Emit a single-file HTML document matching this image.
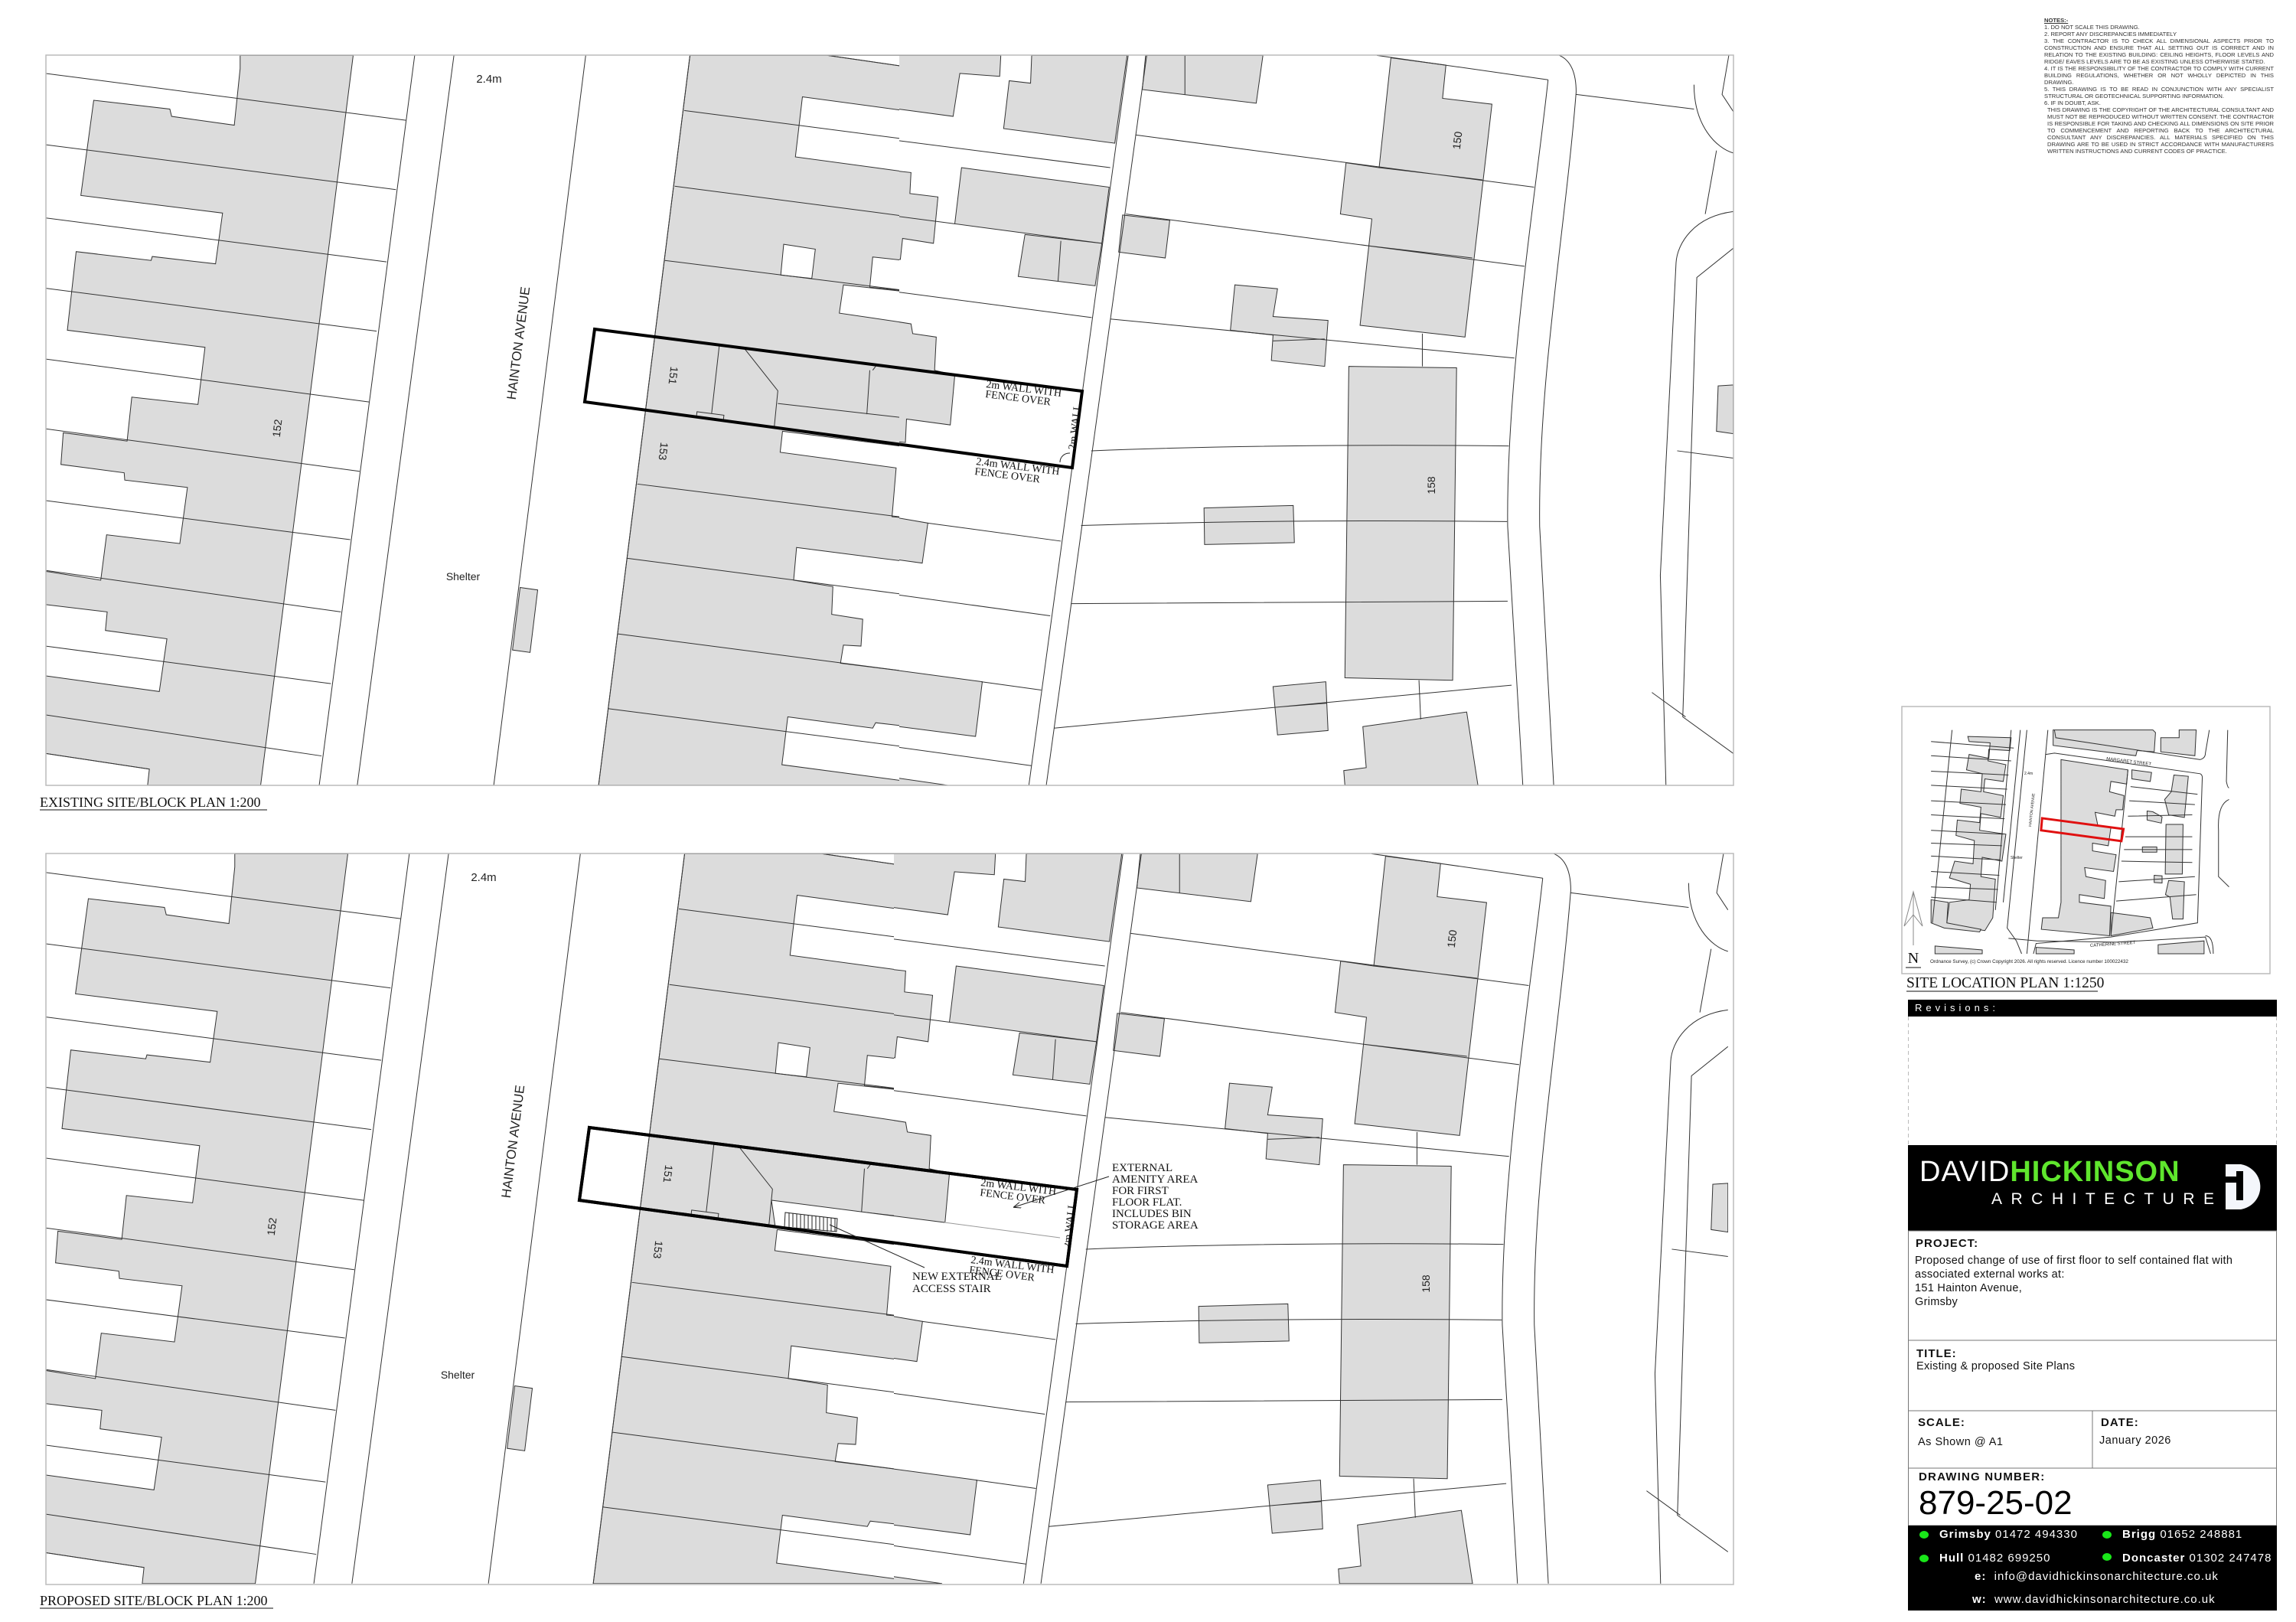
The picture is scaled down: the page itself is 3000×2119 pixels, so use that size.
<!DOCTYPE html>
<html><head><meta charset="utf-8"><style>
*{margin:0;padding:0;box-sizing:border-box}
body{width:3000px;height:2119px;background:#fff;position:relative;overflow:hidden;font-family:"Liberation Sans",sans-serif}
.a{position:absolute;white-space:nowrap}
.tb{font-family:"Liberation Sans",sans-serif;color:#111}
.b{font-weight:bold}
.dot{position:absolute;width:12px;height:10px;border-radius:50%;background:#19e619}
</style></head><body>
<svg width="3000" height="2119" viewBox="0 0 3000 2119" style="position:absolute;left:0;top:0">
<defs>
<clipPath id="cL" clipPathUnits="userSpaceOnUse"><rect x="60" y="72" width="1115" height="954"/></clipPath>
<clipPath id="cR" clipPathUnits="userSpaceOnUse"><rect x="1175" y="72" width="1090" height="954"/></clipPath>
<clipPath id="cT" clipPathUnits="userSpaceOnUse"><rect x="60" y="72" width="2205" height="954"/></clipPath>
<clipPath id="cB" clipPathUnits="userSpaceOnUse"><rect x="60" y="1115" width="2205" height="955"/></clipPath>
<marker id="ar" markerWidth="10" markerHeight="8" refX="9" refY="4" orient="auto" markerUnits="userSpaceOnUse"><path d="M0,0 L10,4 L0,8" fill="none" stroke="#222" stroke-width="1"/></marker>
<g id="plan">
 <g clip-path="url(#cL)">
  <g transform="translate(0,50) scale(0.7653,0.6378)" fill="#dcdcdc" stroke="#333" stroke-width="1" vector-effect="non-scaling-stroke">
   <polygon vector-effect="non-scaling-stroke" points="603,35 410,35 410,62 400,178 293,160 290,145 160,127 138,322 380,358 368,462 260,447 258,455 130,437 115,598 350,633 338,750 225,735 217,825 108,808 104,873 212,890 213,905 320,920 307,1035 182,1017 172,1110 85,1093 78,1092 78,1160 183,1175 180,1213 285,1230 272,1338 78,1306 78,1465 255,1497 252,1530 445,1530"/>
   <polygon vector-effect="non-scaling-stroke" points="1178,35 1568,35 1568,1530 1022,1530"/>
   <g fill="#fff">
    <polygon vector-effect="non-scaling-stroke" points="1370,120 1568,152 1568,318 1553,315 1555,275 1358,243"/>
    <polygon vector-effect="non-scaling-stroke" points="1338,422 1392,432 1386,492 1333,485"/>
    <polygon vector-effect="non-scaling-stroke" points="1490,448 1568,458 1568,520 1485,510"/>
    <polygon vector-effect="non-scaling-stroke" points="1440,505 1568,522 1568,606 1557,605 1558,585 1433,563"/>
    <polygon vector-effect="non-scaling-stroke" points="1336,805 1568,840 1568,985 1523,980 1530,880 1332,848"/>
    <polygon vector-effect="non-scaling-stroke" points="1360,1043 1568,1075 1568,1300 1435,1280 1440,1243 1470,1245 1473,1190 1420,1180 1422,1123 1355,1110"/>
    <polygon vector-effect="non-scaling-stroke" points="1345,1390 1490,1413 1495,1402 1568,1412 1568,1525 1335,1488"/>
    <polygon vector-effect="non-scaling-stroke" points="1413,35 1568,35 1568,62"/>
   </g>
   <g fill="none">
    <path vector-effect="non-scaling-stroke" d="M78,72L693,168M78,218L676,310M78,368L660,458M78,512L643,600M78,657L630,745M78,800L614,887M78,947L598,1027M78,1090L582,1175M78,1245L565,1322M78,1386L549,1470M78,1465L255,1497"/>
    <path vector-effect="non-scaling-stroke" d="M708,35L545,1530M775,35L610,1530M1000,35L843,1530M1178,35L1022,1530"/>
    <path vector-effect="non-scaling-stroke" d="M1168,148L1568,210M1152,303L1568,368M1135,455L1568,520M1088,913L1568,985M1070,1065L1568,1143M1055,1220L1568,1300M1038,1373L1568,1455M1413,35L1568,62"/>
    <path vector-effect="non-scaling-stroke" d="M1228,630L1215,768M1272,637L1328,722L1322,795M1328,748L1548,778M1485,680L1480,770M1495,672L1490,680"/>
   </g>
   <polygon vector-effect="non-scaling-stroke" points="888,1125 918,1130 905,1258 875,1253"/>
   <polygon vector-effect="non-scaling-stroke" points="1190,765 1236,772 1235,782 1189,776"/>
  </g>
 </g>
 <g clip-path="url(#cR)">
  <g transform="translate(1150,50) scale(0.7334,0.6378)" fill="#dcdcdc" stroke="#333" stroke-width="1">
   <rect x="0" y="35" width="460" height="1500" fill="#fff" stroke="none"/>
   <polygon vector-effect="non-scaling-stroke" points="0,35 215,35 213,78 142,72 130,160 0,140"/>
   <polygon vector-effect="non-scaling-stroke" points="270,35 440,35 418,215 220,185 230,87 268,92"/>
   <polygon vector-effect="non-scaling-stroke" points="0,268 55,275 53,318 103,325 95,420 40,410 36,453 0,447"/>
   <polygon vector-effect="non-scaling-stroke" points="145,265 408,305 395,420 133,380"/>
   <polygon vector-effect="non-scaling-stroke" points="258,402 395,420 383,507 246,488"/>
   <polygon vector-effect="non-scaling-stroke" points="0,575 55,585 58,605 100,612 97,680 133,690 125,792 47,780 45,828 0,823"/>
   <polygon vector-effect="non-scaling-stroke" points="0,880 30,880 20,980 85,993 75,1075 0,1063"/>
   <polygon vector-effect="non-scaling-stroke" points="0,1290 182,1318 170,1430 0,1405"/>
   <polygon vector-effect="non-scaling-stroke" points="0,1510 120,1530 0,1530"/>
   <polygon vector-effect="non-scaling-stroke" points="473,35 682,35 670,133 467,105"/>
   <polygon vector-effect="non-scaling-stroke" points="432,362 516,373 508,450 425,438"/>
   <polygon vector-effect="non-scaling-stroke" points="632,505 708,513 700,570 798,578 792,672 697,660 700,608 624,598"/>
   <polygon vector-effect="non-scaling-stroke" points="910,40 1008,55 1002,123 1090,135 1042,612 855,588 876,370 820,360 830,255 889,265"/>
   <polygon vector-effect="non-scaling-stroke" points="835,672 1027,675 1020,1315 828,1310"/>
   <polygon vector-effect="non-scaling-stroke" points="577,962 736,957 738,1033 578,1037"/>
   <polygon vector-effect="non-scaling-stroke" points="700,1328 794,1318 798,1418 708,1427"/>
   <polygon vector-effect="non-scaling-stroke" points="860,1410 1045,1380 1065,1530 828,1530 826,1500 866,1494"/>
   <polygon vector-effect="non-scaling-stroke" points="1493,712 1520,710 1520,810 1490,805"/>
   <g fill="none">
    <path vector-effect="non-scaling-stroke" d="M0,205L410,265M0,360L133,380M0,515L377,572M85,993L322,1030M0,1135L303,1183M180,1318L287,1335M0,1447L270,1490"/>
    <path vector-effect="non-scaling-stroke" d="M442,35L265,1530M475,35L296,1530M543,35L543,115"/>
    <path vector-effect="non-scaling-stroke" d="M455,198L1165,305M438,360L1148,467M410,575L1130,655M376,845Q700,830 1120,835M358,998Q700,985 1117,990M340,1158L1118,1153M310,1413L1125,1325M966,605L966,672M960,1315L963,1395M885,35L1190,85M889,265L1073,290M870,425L1055,450M700,620L792,616M322,415L317,497M708,1370L796,1362"/>
    <path vector-effect="non-scaling-stroke" d="M1190,85C1170,300 1115,700 1118,1000L1145,1530M1210,35Q1240,50 1240,110C1220,400 1172,700 1175,1000L1200,1530"/>
    <path vector-effect="non-scaling-stroke" d="M1512,35L1500,115L1520,150M1450,95C1450,180 1490,225 1520,235M1240,115L1450,145M1490,230L1470,360M1520,355C1450,365 1420,420 1418,460L1390,1100L1400,1530M1520,430L1455,490L1430,1390L1520,1465M1375,1340L1435,1390M1420,845L1520,860"/>
   </g>
  </g>
 </g>
 <polygon points="777,430 1414,511 1401,611 764,525" fill="none" stroke="#000" stroke-width="4"/>
 <path d="M1385,604 A12,12 0 0 1 1398,592" fill="none" stroke="#222" stroke-width="1"/>
 <g font-family="Liberation Sans, sans-serif" font-size="15" fill="#222">
  <text x="639" y="108" text-anchor="middle">2.4m</text>
  <text transform="translate(683,449) rotate(-82.8)" text-anchor="middle" font-size="17">HAINTON AVENUE</text>
  <text x="605" y="758" text-anchor="middle" font-size="14">Shelter</text>
  <text transform="translate(367,560) rotate(-83)" text-anchor="middle" font-size="14">152</text>
  <text transform="translate(875,490) rotate(97)" text-anchor="middle" font-size="14">151</text>
  <text transform="translate(862,589) rotate(97)" text-anchor="middle" font-size="14">153</text>
  <text transform="translate(1909,184) rotate(-83)" text-anchor="middle" font-size="14">150</text>
  <text transform="translate(1875,634) rotate(-90)" text-anchor="middle" font-size="14">158</text>
 </g>
 <g font-family="Liberation Serif, serif" font-size="14" fill="#111">
  <text transform="translate(1288,506) rotate(7)">2m WALL WITH</text>
  <text transform="translate(1287,519) rotate(7)">FENCE OVER</text>
  <text transform="translate(1275,607) rotate(7)">2.4m WALL WITH</text>
  <text transform="translate(1273,620) rotate(7)">FENCE OVER</text>
  <text transform="translate(1405,588) rotate(-83)">2m WALL</text>
 </g>
 <line x1="27" y1="925" x2="27" y2="985" stroke="#888" stroke-width="1"/>
 <path d="M21,960 L27,925 L33,960 L27,950 Z" fill="none" stroke="#888" stroke-width="1"/>
 <text x="27" y="1015" text-anchor="middle" font-family="Liberation Serif, serif" font-size="22" fill="#111">N</text>
 <line x1="18" y1="1020" x2="36" y2="1020" stroke="#111"/>
</g>
</defs>
<g clip-path="url(#cT)"><use href="#plan"/></g>
<rect x="60" y="72" width="2205" height="954" fill="none" stroke="#bbb" stroke-width="1.5"/>
<g clip-path="url(#cB)"><use href="#plan" transform="translate(-7,1043)"/></g>
<g>
 <polygon points="1008,1568 1234,1597 1391,1618 1391,1651 1013,1603" fill="#fff" stroke="none"/>
 <path d="M1008,1568 L1234,1597" stroke="#333" fill="none"/>
 <path d="M1234,1597 L1385,1617" stroke="#999" fill="none"/>
 <path d="M1008,1568 L1013,1603" stroke="#333" fill="none"/>
 <polygon points="1026,1584 1094,1592 1093,1609 1025,1603" fill="#fff" stroke="#222"/>
 <path d="M1031,1585v18M1036,1585v18M1041,1586v18M1046,1587v18M1051,1587v18M1056,1588v18M1061,1588v18M1066,1589v18M1071,1589v18M1076,1590v18M1081,1591v18M1086,1591v18M1091,1592v17" stroke="#222" stroke-width="1"/>
 <polygon points="770,1473 1407,1554 1394,1654 757,1568" fill="none" stroke="#000" stroke-width="4"/>
</g>
<rect x="60" y="1115" width="2205" height="955" fill="none" stroke="#bbb" stroke-width="1.5"/>
<line x1="1449" y1="1537" x2="1325" y2="1577" stroke="#222" marker-end="url(#ar)"/>
<line x1="1084" y1="1600" x2="1208" y2="1656" stroke="#222"/>
<g font-family="Liberation Serif, serif" font-size="15" fill="#111">
 <text x="1453" y="1530">EXTERNAL</text>
 <text x="1453" y="1545">AMENITY AREA</text>
 <text x="1453" y="1560">FOR FIRST</text>
 <text x="1453" y="1575">FLOOR FLAT.</text>
 <text x="1453" y="1590">INCLUDES BIN</text>
 <text x="1453" y="1605">STORAGE AREA</text>
 <text x="1192" y="1672">NEW EXTERNAL</text>
 <text x="1192" y="1688">ACCESS STAIR</text>
 <text x="52" y="1054" font-size="18">EXISTING SITE/BLOCK PLAN 1:200</text>
 <text x="52" y="2097" font-size="18">PROPOSED SITE/BLOCK PLAN 1:200</text>
</g>
<line x1="52" y1="1058" x2="349" y2="1058" stroke="#111"/>
<line x1="52" y1="2101" x2="357" y2="2101" stroke="#111"/>

<rect x="2485" y="923" width="481" height="349" fill="#fff" stroke="#bbb" stroke-width="1.5"/>
<g transform="translate(2470,910) scale(0.343,0.336)" stroke="#333" fill="#dcdcdc">
 <polygon vector-effect="non-scaling-stroke" points="295,155 460,160 455,210 375,205 372,250 440,265 430,330 360,320 355,370 430,385 420,470 345,455 340,520 440,535 425,640 350,625 345,700 400,710 390,860 360,910 330,905 215,880 225,800 300,790 305,730 225,705 245,640 315,650 320,560 250,540 255,480 340,490 345,430 265,415 270,360 345,370 350,300 290,285 300,225 375,240 380,180 300,175"/>
 <polygon vector-effect="non-scaling-stroke" points="650,245 905,285 900,340 840,330 835,370 890,385 885,440 860,440 855,465 780,450 790,500 840,510 830,580 770,570 770,600 860,615 850,680 740,665 745,700 820,715 815,785 720,770 720,800 840,815 835,930 575,905 580,860 640,860 650,800"/>
 <polygon vector-effect="non-scaling-stroke" points="620,130 1000,130 1010,140 1005,215 940,210 935,230 620,190"/>
 <polygon vector-effect="non-scaling-stroke" points="1100,130 1165,130 1160,230 1030,215 1030,160 1100,160"/>
 <polygon vector-effect="non-scaling-stroke" points="1080,305 1135,310 1120,470 1060,460 1045,400 1070,370"/>
 <polygon vector-effect="non-scaling-stroke" points="1050,497 1115,497 1112,690 1047,690"/>
 <polygon vector-effect="non-scaling-stroke" points="1060,715 1120,720 1115,865 1075,865 1065,780 1048,770"/>
 <polygon vector-effect="non-scaling-stroke" points="840,840 990,860 1000,900 840,930"/>
 <polygon vector-effect="non-scaling-stroke" points="155,790 220,800 215,880 345,905 340,915 205,900 155,880"/>
 <polygon vector-effect="non-scaling-stroke" points="920,285 995,295 990,330 920,320"/>
 <polygon vector-effect="non-scaling-stroke" points="960,585 1015,585 1015,605 960,605"/>
 <polygon vector-effect="non-scaling-stroke" points="1005,695 1035,697 1035,725 1005,723"/>
 <polygon vector-effect="non-scaling-stroke" points="978,445 1000,448 1035,468 1032,492 978,480"/>
 <polygon vector-effect="non-scaling-stroke" points="170,970 350,985 350,1000 170,1000"/>
 <polygon vector-effect="non-scaling-stroke" points="555,975 700,985 700,1000 555,1000"/>
 <polygon vector-effect="non-scaling-stroke" points="1020,965 1195,950 1195,1000 1020,1000"/>
 <g fill="none">
  <path vector-effect="non-scaling-stroke" d="M155,175L470,200M155,230L460,250M155,290L450,305M155,345L445,360M155,405L440,420M155,460L435,475M155,520L430,535M155,570L425,580M155,620L420,635M155,680L415,695M155,740L410,750M155,780L405,800"/>
  <path vector-effect="non-scaling-stroke" d="M235,130L160,880M460,130L400,830M495,130L430,800M520,130L445,900 480,950 500,1000M600,130L520,1000M592,225L625,220L1180,300Q1190,305 1188,320L1170,880L840,935L555,960L545,1000"/>
  <path vector-effect="non-scaling-stroke" d="M905,285L840,930M625,130L630,160 1180,245Q1200,240 1200,220L1215,130M1285,130L1280,330Q1285,355 1290,355M1290,400Q1245,420 1250,520L1250,700L1290,740"/>
  <path vector-effect="non-scaling-stroke" d="M895,545L1150,545M890,595L1150,595M880,640L1150,645M870,720L1160,700M860,795L1165,770M915,350L1170,380M910,405L1160,420M905,465L1150,460"/>
  <path vector-effect="non-scaling-stroke" d="M450,940L560,950L860,955 1200,935L1220,1000M1200,930Q1230,930 1230,1000"/>
 </g>
 <polygon points="578,473 888,515 880,562 574,520" fill="none" stroke="#e01010" stroke-width="3" vector-effect="non-scaling-stroke"/>
</g>
<g font-family="Liberation Sans, sans-serif" font-size="5" fill="#222">
 <text x="2645" y="1012">2.4m</text>
 <text transform="translate(2654,1080) rotate(-84)">HAINTON AVENUE</text>
 <text x="2627" y="1122">Shelter</text>
 <text transform="translate(2752,993) rotate(7)" font-size="6">MARGARET STREET</text>
 <text transform="translate(2731,1237) rotate(-4)" font-size="6">CATHERINE STREET</text>
 <text x="2522" y="1258" font-size="6.3">Ordnance Survey, (c) Crown Copyright 2026. All rights reserved. Licence number 100022432</text>
</g>
<line x1="2500" y1="1165" x2="2500" y2="1235" stroke="#888"/>
<path d="M2488,1210 L2500,1165 L2512,1210 L2500,1195 Z" fill="none" stroke="#888"/>
<text x="2500" y="1258" text-anchor="middle" font-family="Liberation Serif, serif" font-size="20" fill="#111">N</text>
<line x1="2490" y1="1264" x2="2510" y2="1264" stroke="#111"/>
<text x="2491" y="1290" font-family="Liberation Serif, serif" font-size="19.5" fill="#111">SITE LOCATION PLAN 1:1250</text>
<line x1="2491" y1="1295" x2="2741" y2="1295" stroke="#111"/>

<rect x="2493" y="1306" width="482" height="22" fill="#000"/>
<line x1="2493.5" y1="1328" x2="2493.5" y2="1496" stroke="#bbb" stroke-dasharray="5,4"/>
<line x1="2974.5" y1="1328" x2="2974.5" y2="1496" stroke="#bbb" stroke-dasharray="5,4"/>
<rect x="2493" y="1496" width="482" height="112" fill="#000"/>
<path d="M2908,1521 L2928,1521 A31,30 0 0 1 2928,1580 L2908,1580 Z" fill="#f4f6fb"/>
<rect x="2922" y="1530" width="9" height="38" fill="#000"/>
<rect x="2908" y="1537" width="23" height="8" fill="#000"/>
<rect x="2493.5" y="1608" width="481" height="385" fill="none" stroke="#777"/>
<line x1="2493" y1="1751" x2="2975" y2="1751" stroke="#777"/>
<line x1="2493" y1="1843" x2="2975" y2="1843" stroke="#777"/>
<line x1="2493" y1="1918" x2="2975" y2="1918" stroke="#777"/>
<line x1="2734" y1="1843" x2="2734" y2="1918" stroke="#777"/>
<rect x="2493" y="1993" width="482" height="111" fill="#000"/>
</svg>

<div class="a" style="left:2671px;top:22px;width:300px;font-size:7.6px;line-height:9px;color:#333;white-space:normal;text-align:justify">
<div style="font-weight:bold;text-decoration:underline">NOTES:-</div>
1. DO NOT SCALE THIS DRAWING.<br>2. REPORT ANY DISCREPANCIES IMMEDIATELY<br>
<div>3. THE CONTRACTOR IS TO CHECK ALL DIMENSIONAL ASPECTS PRIOR TO CONSTRUCTION AND ENSURE THAT ALL SETTING OUT IS CORRECT AND IN RELATION TO THE EXISTING BUILDING: CEILING HEIGHTS, FLOOR LEVELS AND RIDGE/ EAVES LEVELS ARE TO BE AS EXISTING UNLESS OTHERWISE STATED.</div>
<div>4. IT IS THE RESPONSIBILITY OF THE CONTRACTOR TO COMPLY WITH CURRENT BUILDING REGULATIONS, WHETHER OR NOT WHOLLY DEPICTED IN THIS DRAWING.</div>
<div>5. THIS DRAWING IS TO BE READ IN CONJUNCTION WITH ANY SPECIALIST STRUCTURAL OR GEOTECHNICAL SUPPORTING INFORMATION.</div>
6. IF IN DOUBT, ASK.
<div style="padding-left:4px">THIS DRAWING IS THE COPYRIGHT OF THE ARCHITECTURAL CONSULTANT AND MUST NOT BE REPRODUCED WITHOUT WRITTEN CONSENT. THE CONTRACTOR IS RESPONSIBLE FOR TAKING AND CHECKING ALL DIMENSIONS ON SITE PRIOR TO COMMENCEMENT AND REPORTING BACK TO THE ARCHITECTURAL CONSULTANT ANY DISCREPANCIES. ALL MATERIALS SPECIFIED ON THIS DRAWING ARE TO BE USED IN STRICT ACCORDANCE WITH MANUFACTURERS WRITTEN INSTRUCTIONS AND CURRENT CODES OF PRACTICE.</div>
</div>

<div class="a" style="left:2502px;top:1309px;font-size:13px;color:#fff;letter-spacing:5px">Revisions:</div>
<div class="a" style="left:2508px;top:1511px;font-size:38px;line-height:40px;color:#fff;letter-spacing:1px">DAVID<span style="font-weight:bold;color:#5fe62d">HICKINSON</span></div>
<div class="a" style="left:2602px;top:1555px;font-size:21px;line-height:24px;color:#fff;letter-spacing:11.5px">ARCHITECTURE</div>

<div class="a tb b" style="left:2503px;top:1616px;font-size:15px;letter-spacing:1px">PROJECT:</div>
<div class="a tb" style="left:2502px;top:1638px;font-size:14.5px;line-height:18px;white-space:normal;width:470px;letter-spacing:0.3px">Proposed change of use of first floor to self contained flat with associated external works at:<br>151 Hainton Avenue,<br>Grimsby</div>
<div class="a tb b" style="left:2504px;top:1760px;font-size:15px;letter-spacing:1px">TITLE:</div>
<div class="a tb" style="left:2504px;top:1777px;font-size:14.5px;letter-spacing:0.3px">Existing &amp; proposed Site Plans</div>
<div class="a tb b" style="left:2506px;top:1850px;font-size:15px;letter-spacing:1px">SCALE:</div>
<div class="a tb" style="left:2506px;top:1876px;font-size:14.5px;letter-spacing:0.5px">As Shown @ A1</div>
<div class="a tb b" style="left:2745px;top:1850px;font-size:15px;letter-spacing:1px">DATE:</div>
<div class="a tb" style="left:2743px;top:1874px;font-size:14.5px;letter-spacing:0.5px">January 2026</div>
<div class="a tb b" style="left:2507px;top:1921px;font-size:15px;letter-spacing:1.2px">DRAWING NUMBER:</div>
<div class="a tb" style="left:2507px;top:1940px;font-size:44px;line-height:48px;color:#000">879-25-02</div>

<div class="dot" style="left:2508px;top:2000px"></div>
<div class="dot" style="left:2747px;top:2000px"></div>
<div class="dot" style="left:2508px;top:2031px"></div>
<div class="dot" style="left:2747px;top:2029px"></div>
<div class="a" style="left:2534px;top:1996px;font-size:15px;color:#fff;letter-spacing:1px"><b>Grimsby</b> 01472 494330</div>
<div class="a" style="left:2773px;top:1996px;font-size:15px;color:#fff;letter-spacing:1px"><b>Brigg</b> 01652 248881</div>
<div class="a" style="left:2534px;top:2027px;font-size:15px;color:#fff;letter-spacing:1px"><b>Hull</b> 01482 699250</div>
<div class="a" style="left:2773px;top:2027px;font-size:15px;color:#fff;letter-spacing:1px"><b>Doncaster</b> 01302 247478</div>
<div class="a" style="left:2580px;top:2051px;font-size:15px;color:#fff;letter-spacing:1px"><b>e:</b>&nbsp; info@davidhickinsonarchitecture.co.uk</div>
<div class="a" style="left:2577px;top:2081px;font-size:15px;color:#fff;letter-spacing:1px"><b>w:</b>&nbsp; www.davidhickinsonarchitecture.co.uk</div>
</body></html>
